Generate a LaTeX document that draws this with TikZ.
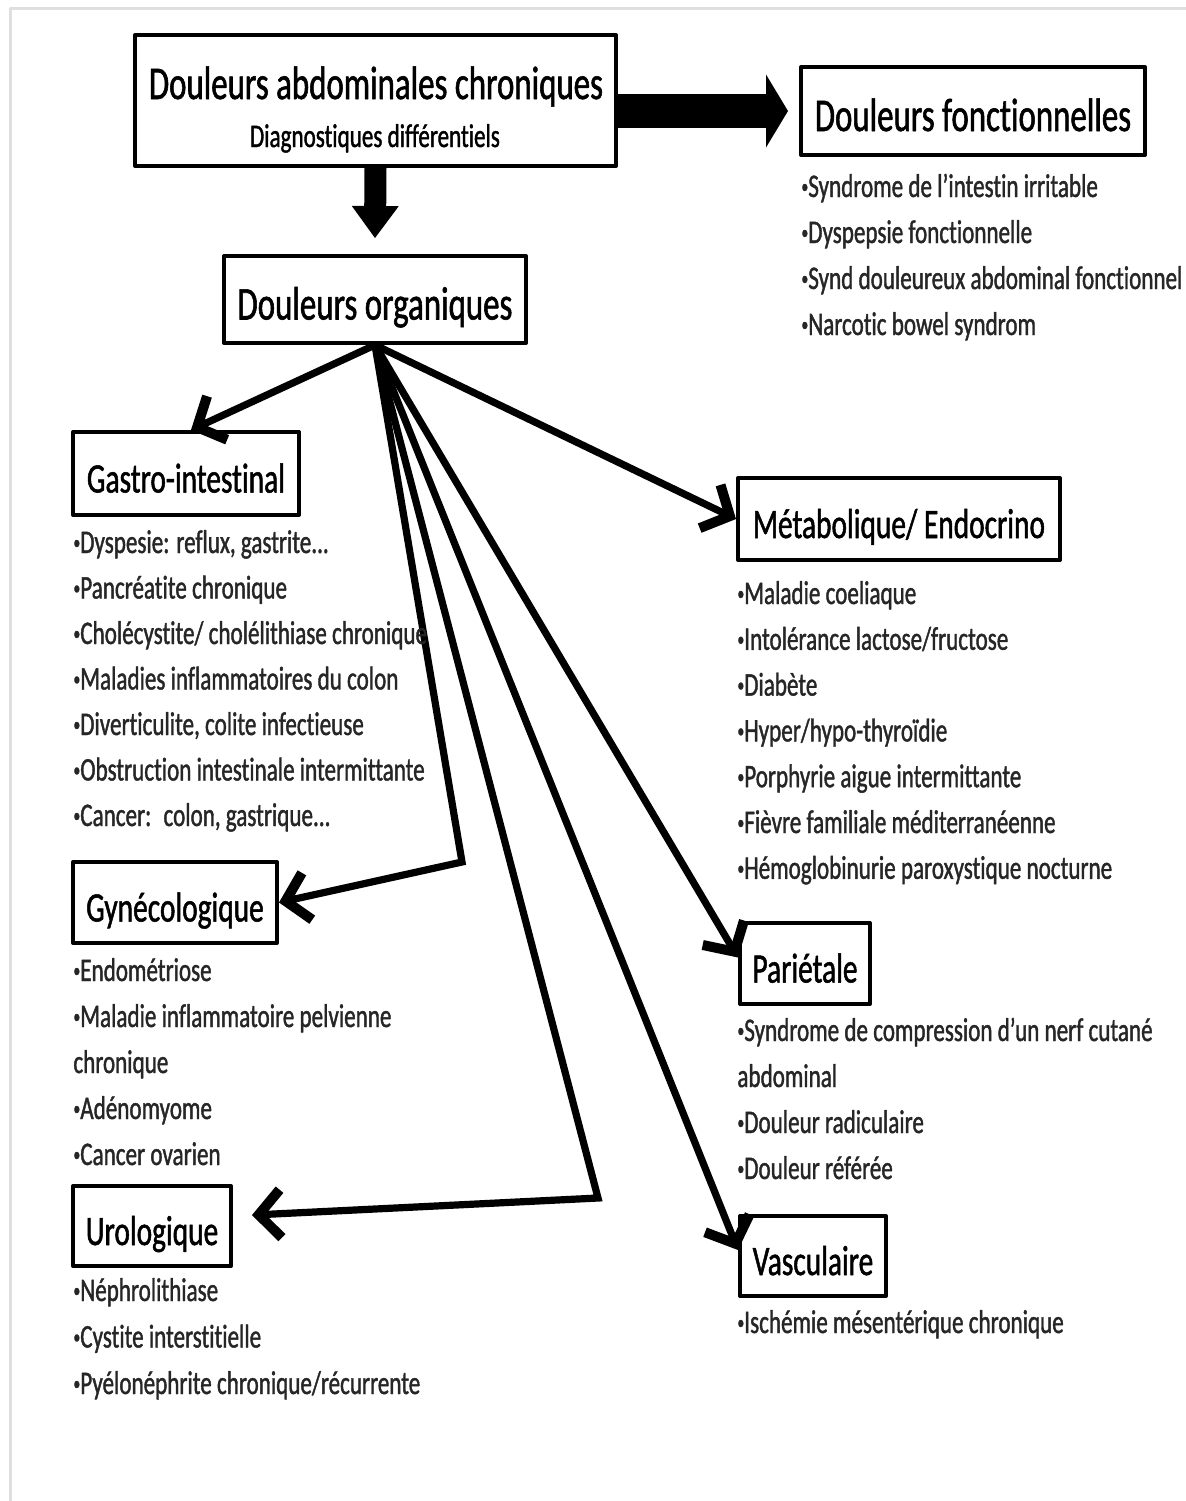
\documentclass[tikz,border=0pt]{standalone}
\usepackage{fontspec}
\setmainfont{Carlito}[FakeStretch=0.7, FakeBold=1.2, Ligatures=NoCommon]
\usetikzlibrary{arrows.meta,positioning}
\tikzset{
	box/.style={draw, line width=2pt, inner sep=0pt},
	topbox/.style={box, font=\fontsize{23.5}{28}\selectfont, text height=21pt, text depth=1pt},
	subbox/.style={box, font=\fontsize{21}{25}\selectfont, text height=20pt, text depth=1pt},
	item/.style={anchor=base west, inner sep=0pt, text=black!85, font=\fontsize{16.5}{23}\selectfont},
	link/.style={line width=3.6pt, line join=miter, -{Straight Barb[length=11pt,width=24pt,line width=5pt]}},
}
\newcommand{\etc}{..{}.}
\newcommand{\bul}{\raisebox{0.12em}{\scalebox{0.6}{•}}}
\begin{document}
\begin{tikzpicture}[x=0.5pt, y=-0.5pt, line join=round, line cap=round]
	\useasboundingbox (0,0) rectangle (1186,1501);
	\draw[gray!25, line width=1.5pt] (10,1501) -- (10,8) -- (1186,8);
	% boxes
	\node[topbox, minimum width=240.5pt, minimum height=65.5pt] (main) at (375.5,100.5) {};
	\node[anchor=base, inner sep=0pt, font=\fontsize{23.5}{28}\selectfont] (main-title) at (376,99) {Douleurs abdominales chroniques};
	\node[anchor=base, inner sep=0pt, font=\fontsize{16.5}{20}\selectfont] (main-sub) at (375,147) {Diagnostiques différentiels};
	\node[topbox, minimum width=172pt, minimum height=44pt] (fonct) at (973,111) {Douleurs fonctionnelles};
	\node[topbox, minimum width=151pt, minimum height=43.5pt] (organ) at (375,299.5) {Douleurs organiques};
	\node[subbox, minimum width=113pt, minimum height=41.5pt] (gastro) at (186,473.5) {Gastro-intestinal};
	\node[subbox, minimum width=161pt, minimum height=41pt] (metab) at (899,519) {Métabolique/ Endocrino};
	\node[subbox, minimum width=102pt, minimum height=40.5pt] (gyn) at (175,902.5) {Gynécologique};
	\node[subbox, minimum width=79pt, minimum height=40pt] (uro) at (152,1226) {Urologique};
	\node[subbox, minimum width=65pt, minimum height=40.5pt] (pari) at (805,963.5) {Pariétale};
	\node[subbox, minimum width=73pt, minimum height=40pt] (vasc) at (813,1256) {Vasculaire};
	% big arrows
	\draw[line width=17pt, line cap=butt, -{Triangle[length=11pt,width=36.5pt,line width=0pt]}] (main.east |- fonct.west) -- ([xshift=-5.5pt]fonct.west);
	\draw[line width=11pt, line cap=butt, -{Triangle[length=16pt,width=23.5pt,line width=0pt]}] (main.south) -- ([yshift=8pt]organ.north);
	% thin arrows
	\path (462,862) coordinate (gyn-bend)
		(598,1198) coordinate (uro-bend);
	\draw[link] (organ.south) -- ([xshift=2.5pt]gastro.north);
	\draw[link] (organ.south) -- (metab.west);
	\draw[link] (organ.south) -- (gyn-bend) -- (gyn.east);
	\draw[link, shorten >=9.5pt] (organ.south) -- (uro-bend) -- ([yshift=5pt]uro.east);
	\draw[link] (organ.south) -- ([yshift=3pt]pari.west);
	\draw[link] (organ.south) -- ([yshift=3pt]vasc.west);
	% lists
	\foreach [count=\i] \t in {{\bul Syndrome de l’intestin irritable}, {\bul Dyspepsie fonctionnelle},
		{\bul Synd douleureux abdominal fonctionnel}, {\bul Narcotic bowel syndrom}}
		\node[item] (fonct-\i) at (801,151+46*\i) {\t};
	\foreach [count=\i] \t in {{\bul Dyspesie: reflux, gastrite\etc}, {\bul Pancréatite chronique},
		{\bul Cholécystite/ cholélithiase chronique}, {\bul Maladies inflammatoires du colon},
		{\bul Diverticulite, colite infectieuse}, {\bul Obstruction intestinale intermittante},
		{\bul Cancer:~ colon, gastrique\etc}}
		\node[item] (gastro-\i) at (73,507.5+45.5*\i) {\t};
	\foreach [count=\i] \t in {{\bul Maladie coeliaque}, {\bul Intolérance lactose/fructose}, {\bul Diabète},
		{\bul Hyper/hypo-thyroïdie}, {\bul Porphyrie aigue intermittante},
		{\bul Fièvre familiale méditerranéenne}, {\bul Hémoglobinurie paroxystique nocturne}}
		\node[item] (metab-\i) at (737,558.2+45.8*\i) {\t};
	\foreach [count=\i] \t in {{\bul Endométriose}, {\bul Maladie inflammatoire pelvienne}, {chronique},
		{\bul Adénomyome}, {\bul Cancer ovarien}}
		\node[item] (gyn-\i) at (73,935+46*\i) {\t};
	\foreach [count=\i] \t in {{\bul Néphrolithiase}, {\bul Cystite interstitielle},
		{\bul Pyélonéphrite chronique/récurrente}}
		\node[item] (uro-\i) at (73,1254.5+46.5*\i) {\t};
	\foreach [count=\i] \t in {{\bul Syndrome de compression d’un nerf cutané}, {abdominal},
		{\bul Douleur radiculaire}, {\bul Douleur référée}}
		\node[item] (pari-\i) at (737,995+46*\i) {\t};
	\node[item] (vasc-1) at (737,1333) {\bul Ischémie mésentérique chronique};
\end{tikzpicture}
\end{document}
